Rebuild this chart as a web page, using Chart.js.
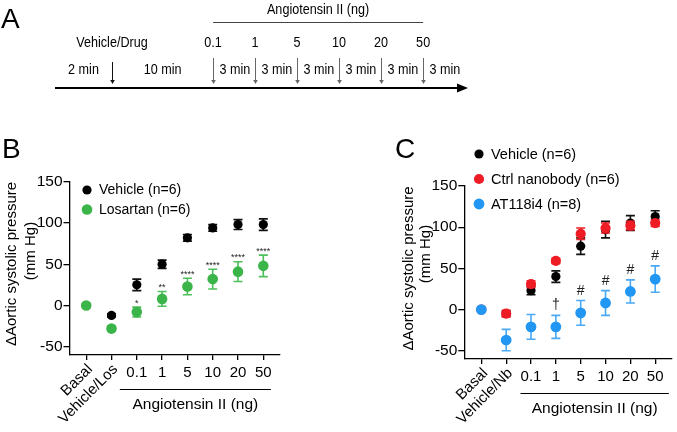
<!DOCTYPE html>
<html>
<head>
<meta charset="utf-8">
<script src="https://cdn.jsdelivr.net/npm/chart.js@4.4.1/dist/chart.umd.min.js"></script>
<style>
  html,body{margin:0;padding:0;background:#fff;}
  #wrap{position:relative;width:677px;height:432px;overflow:hidden;background:#fff;}
  canvas{position:absolute;display:block;}
</style>
</head>
<body>
<div id="wrap">
  <canvas id="cA" width="677" height="110" style="left:0;top:0;width:677px;height:110px"></canvas>
  <canvas id="cB" width="340" height="322" style="left:0;top:110px;width:340px;height:322px"></canvas>
  <canvas id="cC" width="337" height="322" style="left:340px;top:110px;width:337px;height:322px"></canvas>
</div>
<script>
// ---------------- DATA ----------------
const timelineDoses = ['0.1', '1', '5', '10', '20', '50'];

const categoriesB = ['Basal', 'Vehicle/Los', '0.1', '1', '5', '10', '20', '50'];
const vehicleB    = [0, -12, 25, 50, 82, 94, 98, 98];
const vehicleBErr = [0, 2, 7, 5, 4, 4, 6, 7];
const losartanB    = [0, -28, -8, 8, 23, 32, 41, 48];
const losartanBErr = [0, 3, 6, 9, 10, 12, 12, 13];
const sigB = ['', '', '*', '**', '****', '****', '****', '****'];

const categoriesC = ['Basal', 'Vehicle/Nb', '0.1', '1', '5', '10', '20', '50'];
const vehicleC    = [0, -5, 23, 40, 77, 97, 105, 113];
const vehicleCErr = [0, 3, 5, 7, 10, 10, 9, 7];
const ctrlNbC     = [0, -5, 31, 59, 92, 99, 102, 105];
const ctrlNbCErr  = [0, 4, 4, 3, 7, 6, 5, 4];
const at118C      = [0, -37, -21, -21, -4, 8, 22, 37];
const at118CErr   = [0, 13, 15, 14, 15, 15, 14, 16];
const sigC = ['', '', '', '†', '#', '#', '#', '#'];

const yTicks = [-50, 0, 50, 100, 150];

// ---------------- STYLE ----------------
const FONT = "'Liberation Sans', Arial, Helvetica, sans-serif";
Chart.defaults.font.family = FONT;
Chart.defaults.color = '#000';
const BLACK = '#000000', GREEN = '#3bb54a', RED = '#ee1c25', BLUE = '#2196f3';
const GREEN_ERR = '#4cc05a', BLUE_ERR = '#4aa8f5';

function toPts(arr) { return arr.map((v, i) => ({ x: i, y: v })); }

// ---------------- PANEL A (timeline) ----------------
function narrow(ctx, s, x, y, sx) {
  ctx.save(); ctx.translate(x, y); ctx.scale(sx || 0.86, 1); ctx.fillText(s, 0, 0); ctx.restore();
}
const TL = { vehicleAt: 1.357, doseStart: 3.762, end: 9.83 };
const timelinePlugin = {
  id: 'timeline',
  afterDraw(chart) {
    const ctx = chart.ctx, xs = chart.scales.x;
    const X = v => xs.getPixelForValue(v);
    const doseX = timelineDoses.map((_, i) => X(TL.doseStart + i));
    ctx.save();
    ctx.fillStyle = '#000';
    ctx.font = '28px ' + FONT; ctx.textAlign = 'left'; ctx.textBaseline = 'alphabetic';
    ctx.fillText('A', 1, 28);
    ctx.font = '15px ' + FONT; ctx.textAlign = 'center'; ctx.textBaseline = 'middle';
    const left = doseX[0], right = doseX[doseX.length - 1];
    narrow(ctx, 'Angiotensin II (ng)', (left + right) / 2, 10, 0.84);
    ctx.strokeStyle = '#444'; ctx.lineWidth = 1;
    ctx.beginPath(); ctx.moveTo(left, 22.5); ctx.lineTo(right, 22.5); ctx.stroke();
    narrow(ctx, 'Vehicle/Drug', X(TL.vehicleAt), 43, 0.84);
    timelineDoses.forEach((d, i) => narrow(ctx, d, doseX[i], 43, 0.84));
    narrow(ctx, '2 min', X(TL.vehicleAt / 2), 70, 0.84);
    narrow(ctx, '10 min', X((TL.vehicleAt + TL.doseStart) / 2), 70, 0.84);
    timelineDoses.forEach((d, i) => narrow(ctx, '3 min', X(TL.doseStart + i + 0.52), 70, 0.84));
    function down(x, y0, y1, col) {
      ctx.strokeStyle = col; ctx.fillStyle = col; ctx.lineWidth = 1;
      ctx.beginPath(); ctx.moveTo(x, y0); ctx.lineTo(x, y1 - 3); ctx.stroke();
      ctx.beginPath(); ctx.moveTo(x - 2.3, y1 - 4); ctx.lineTo(x + 2.3, y1 - 4); ctx.lineTo(x, y1); ctx.closePath(); ctx.fill();
    }
    down(Math.round(X(TL.vehicleAt)) + 0.5, 62, 84, '#111');
    doseX.forEach(x => down(Math.round(x) + 0.5, 58, 84, '#666'));
    const x0 = X(0), x1 = X(TL.end);
    ctx.strokeStyle = '#000'; ctx.fillStyle = '#000'; ctx.lineWidth = 2;
    ctx.beginPath(); ctx.moveTo(x0, 88); ctx.lineTo(x1 - 8, 88); ctx.stroke();
    ctx.beginPath(); ctx.moveTo(x1 - 11, 83.5); ctx.lineTo(x1, 88); ctx.lineTo(x1 - 11, 92.5); ctx.closePath(); ctx.fill();
    ctx.restore();
  }
};
new Chart(document.getElementById('cA'), {
  type: 'scatter',
  data: { datasets: [] },
  options: {
    responsive: false, animation: false, devicePixelRatio: 1,
    layout: { padding: { left: 55, right: 209, top: 0, bottom: 0 } },
    plugins: { legend: { display: false }, tooltip: { enabled: false } },
    scales: {
      x: { type: 'linear', min: 0, max: TL.end, display: false },
      y: { type: 'linear', min: 0, max: 1, display: false }
    }
  },
  plugins: [timelinePlugin]
});

// ---------------- PANELS B & C ----------------
function makePanel(canvasId, cfg) {
  const panelPlugin = {
    id: 'panel' + canvasId,
    beforeDatasetDraw(chart, args) {
      const ds = chart.data.datasets[args.index];
      const xs = chart.scales.x, ys = chart.scales.y, ctx = chart.ctx;
      ctx.save();
      ctx.strokeStyle = ds.errColor; ctx.lineWidth = 1.6;
      ds.data.forEach((p, i) => {
        const e = ds.errors[i]; if (!e) return;
        const px = xs.getPixelForValue(p.x);
        const t = ys.getPixelForValue(p.y + e), b = ys.getPixelForValue(p.y - e);
        ctx.beginPath();
        ctx.moveTo(px, t); ctx.lineTo(px, b);
        ctx.moveTo(px - 4.5, t); ctx.lineTo(px + 4.5, t);
        ctx.moveTo(px - 4.5, b); ctx.lineTo(px + 4.5, b);
        ctx.stroke();
      });
      ctx.restore();
    },
    afterDraw(chart) {
      const ctx = chart.ctx, xs = chart.scales.x, ys = chart.scales.y, ca = chart.chartArea;
      ctx.save();
      ctx.fillStyle = '#000';
      ctx.font = '28px ' + FONT; ctx.textAlign = 'left'; ctx.textBaseline = 'alphabetic';
      ctx.fillText(cfg.letter, cfg.letterX, 48);
      ctx.font = '15px ' + FONT; ctx.textAlign = 'center'; ctx.textBaseline = 'middle';
      [[cfg.yTitle[0], cfg.yt1], [cfg.yTitle[1], cfg.yt2]].forEach(([s, pos]) => {
        ctx.save(); ctx.translate(pos[0], pos[1]); ctx.rotate(-Math.PI / 2); ctx.fillText(s, 0, 0); ctx.restore();
      });
      cfg.categories.forEach((c, i) => {
        const px = xs.getPixelForValue(i);
        if (i < 2) {
          ctx.save(); ctx.font = '15px ' + FONT;
          ctx.translate(px + 4, ca.bottom + 12); ctx.rotate(-Math.PI / 4);
          ctx.textAlign = 'right'; ctx.textBaseline = 'middle';
          ctx.fillText(c, 0, 0); ctx.restore();
        } else {
          ctx.font = '15px ' + FONT; ctx.textAlign = 'center'; ctx.textBaseline = 'middle';
          ctx.fillText(c, px, ca.bottom + 18);
        }
      });
      const l0 = xs.getPixelForValue(cfg.bracket[0]), l1 = xs.getPixelForValue(cfg.bracket[1]);
      ctx.strokeStyle = '#000'; ctx.lineWidth = 1.2;
      ctx.beginPath(); ctx.moveTo(l0, ca.bottom + 34.5); ctx.lineTo(l1, ca.bottom + 34.5); ctx.stroke();
      ctx.font = '15.5px ' + FONT; ctx.textAlign = 'center'; ctx.textBaseline = 'middle';
      ctx.fillText('Angiotensin II (ng)', (l0 + l1) / 2, ca.bottom + 50);
      const sd = chart.data.datasets.find(d => d.label === cfg.sigOf);
      cfg.sig.forEach((s, i) => {
        if (!s) return;
        const top = ys.getPixelForValue(sd.data[i].y + sd.errors[i]);
        ctx.font = cfg.sigFont; ctx.fillStyle = '#222'; ctx.textAlign = 'center'; ctx.textBaseline = 'alphabetic';
        ctx.fillText(s, xs.getPixelForValue(i), top - cfg.sigGap);
      });
      ctx.font = cfg.legendFont; ctx.textAlign = 'left'; ctx.textBaseline = 'middle';
      cfg.legendOrder.forEach((lab, k) => {
        const d = chart.data.datasets.find(q => q.label === lab);
        const y = cfg.legendY + k * cfg.legendStep;
        ctx.fillStyle = d.backgroundColor;
        ctx.beginPath(); ctx.arc(cfg.legendX, y, d.pointRadius, 0, Math.PI * 2); ctx.fill();
        ctx.fillStyle = '#000';
        ctx.fillText(lab, cfg.legendX + 12, y + 0.5);
      });
      ctx.restore();
    }
  };
  return new Chart(document.getElementById(canvasId), {
    type: 'scatter',
    data: { datasets: cfg.datasets },
    options: {
      responsive: false, animation: false, devicePixelRatio: 1,
      layout: { padding: cfg.padding },
      plugins: { legend: { display: false }, tooltip: { enabled: false } },
      elements: { point: { borderWidth: 0, hoverRadius: 0 } },
      scales: {
        x: {
          type: 'linear', min: cfg.xMin, max: cfg.xMax,
          afterBuildTicks: s => { s.ticks = cfg.categories.map((_, i) => ({ value: i })); },
          afterFit: s => { s.height = cfg.xHeight; },
          grid: { display: true, drawOnChartArea: false, drawTicks: true, tickLength: 5, color: '#000', lineWidth: 1.3 },
          border: { display: true, color: '#000', width: 1.3 },
          ticks: { display: false }
        },
        y: {
          type: 'linear', min: -60, max: 150,
          afterBuildTicks: s => { s.ticks = yTicks.map(v => ({ value: v })); },
          afterFit: s => { s.width = cfg.yWidth; },
          grid: { display: true, drawOnChartArea: false, drawTicks: true, tickLength: 6, color: '#000', lineWidth: 1.3 },
          border: { display: true, color: '#000', width: 1.3 },
          ticks: { color: '#000', font: { size: 15.5 }, padding: 1 }
        }
      }
    },
    plugins: [panelPlugin]
  });
}

makePanel('cB', {
  letter: 'B', letterX: 2,
  categories: categoriesB,
  padding: { left: 0, right: 60, top: 71.7, bottom: 0 },
  yWidth: 69.5, xHeight: 77,
  xMin: -0.66, xMax: 7.66,
  bracket: [1.33, 7.3],
  yTitle: ['ΔAortic systolic pressure', '(mm Hg)'], yt1: [12, 154], yt2: [31, 141],
  sig: sigB, sigOf: 'Losartan (n=6)', sigFont: '9px ' + FONT, sigGap: 1.5,
  legendOrder: ['Vehicle (n=6)', 'Losartan (n=6)'], legendX: 87, legendY: 80, legendStep: 19.5,
  legendFont: '14px ' + FONT,
  datasets: [
    { label: 'Losartan (n=6)', data: toPts(losartanB), errors: losartanBErr, errColor: GREEN_ERR,
      backgroundColor: GREEN, pointRadius: 5.3, order: 0, clip: false },
    { label: 'Vehicle (n=6)', data: toPts(vehicleB), errors: vehicleBErr, errColor: '#111',
      backgroundColor: BLACK, pointRadius: 4.6, order: 1, clip: false }
  ]
});

makePanel('cC', {
  letter: 'C', letterX: 55,
  categories: categoriesC,
  padding: { left: 0, right: 1, top: 76, bottom: 0 },
  yWidth: 124.3, xHeight: 73,
  xMin: -0.686, xMax: 7.66,
  bracket: [1.576, 7.55],
  yTitle: ['ΔAortic systolic pressure', '(mm Hg)'], yt1: [68.5, 158.5], yt2: [86, 144],
  sig: sigC, sigOf: 'AT118i4 (n=8)', sigFont: '14px ' + FONT, sigGap: 6,
  legendOrder: ['Vehicle (n=6)', 'Ctrl nanobody (n=6)', 'AT118i4 (n=8)'], legendX: 139, legendY: 44, legendStep: 25,
  legendFont: '14.5px ' + FONT,
  datasets: [
    { label: 'AT118i4 (n=8)', data: toPts(at118C), errors: at118CErr, errColor: BLUE_ERR,
      backgroundColor: BLUE, pointRadius: 5.4, order: 0, clip: false },
    { label: 'Ctrl nanobody (n=6)', data: toPts(ctrlNbC), errors: ctrlNbCErr, errColor: RED,
      backgroundColor: RED, pointRadius: 5.1, order: 1, clip: false },
    { label: 'Vehicle (n=6)', data: toPts(vehicleC), errors: vehicleCErr, errColor: '#111',
      backgroundColor: BLACK, pointRadius: 4.6, order: 2, clip: false }
  ]
});
</script>
</body>
</html>
